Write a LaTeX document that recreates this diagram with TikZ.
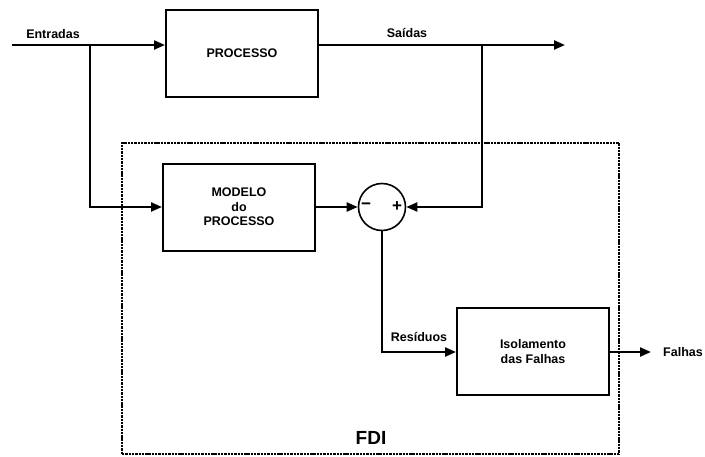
\documentclass[tikz,border=0pt]{standalone}
\usepackage{fontspec}
\setmainfont{Liberation Sans}
\usetikzlibrary{arrows.meta}
\begin{document}
\begin{tikzpicture}[x=1pt,y=-1pt,
  txt/.style={font=\bfseries\fontsize{12.5}{14.5}\selectfont},
  blockbox/.style={draw,line width=2pt,minimum width=152pt,minimum height=87pt,inner sep=0pt,align=center,txt},
  sumnode/.style={draw,circle,line width=1.6pt,minimum size=47pt,inner sep=0pt},
  conn/.style={line width=2.2pt},
  arr/.style={conn,-{Triangle[length=11pt,width=9pt]}},
  lbl/.style={txt,inner sep=0pt},
  signlbl/.style={font=\bfseries\fontsize{17}{19}\selectfont,inner sep=0pt},
  fdibox/.style={line width=2.8pt,dash pattern=on 2.4pt off 0.9pt}]
\useasboundingbox (0,0) rectangle (705,456);
\node[blockbox] (proc) at (242,53.5) {PROCESSO};
\node[blockbox] (modelo) at (239,207) {MODELO\\do\\PROCESSO};
\node[blockbox] (iso) at (533,351.5) {Isolamento\\das Falhas};
\node[sumnode] (sum) at (382,207) {};
\node[signlbl] (minus) at (366,206) {\textminus};
\node[signlbl] (plus) at (397,207) {+};
\node[fdibox,draw,minimum width=497pt,minimum height=311pt,inner sep=0pt] (fdi) at (370.5,298.5) {};
\node[font=\bfseries\fontsize{19}{22}\selectfont,inner sep=0pt] (fdilbl) at (371,438) {FDI};
\coordinate (in) at (12,45);
\coordinate (b1) at (90,45);
\coordinate (b2) at (482,45);
\coordinate (out) at (565,45);
\coordinate (fout) at (651,352);
\node[lbl] (entradas) at (53,34) {Entradas};
\node[lbl] (saidas) at (407,33) {Saídas};
\node[lbl] (residuos) at (419,337) {Resíduos};
\node[lbl,anchor=west] (falhas) at (663,352) {Falhas};
\draw[arr] (in) -- (in -| proc.west);
\draw[arr] (proc.east |- in) -- (out);
\draw[arr] (b1) |- (modelo.west);
\draw[arr] (b2) |- (sum.east);
\draw[arr] (modelo.east) -- (sum.west);
\draw[arr] (sum.south) |- (iso.west |- fout);
\draw[arr] (iso.east |- fout) -- (fout);
\end{tikzpicture}
\end{document}
